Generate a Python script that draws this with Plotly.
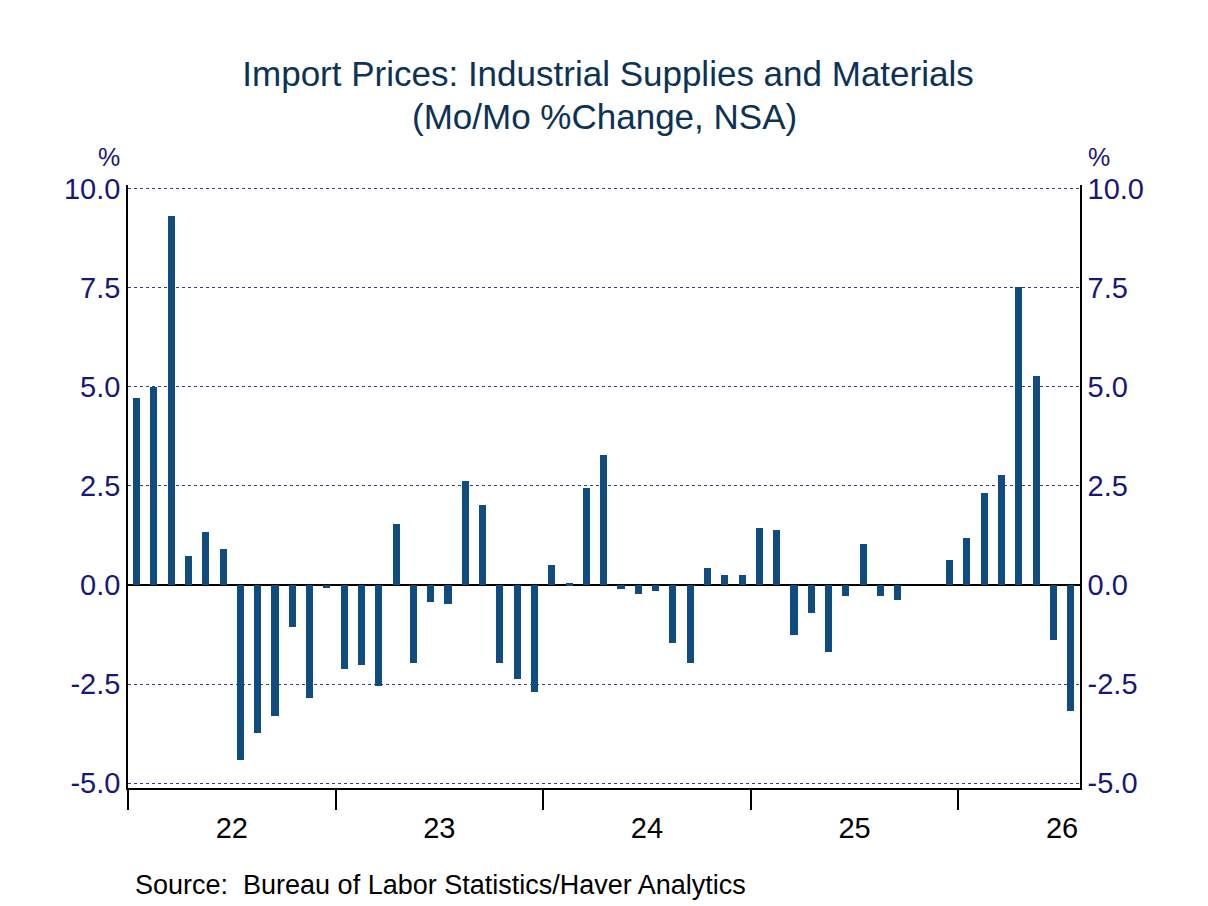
import plotly.graph_objects as go

# ---- data ----
months = [f"{y}-{m:02d}" for y in range(2022, 2027) for m in range(1, 13)][:55]
values_2022 = [4.72, 4.99, 9.32, 0.72, 1.34, 0.92, -4.42, -3.73, -3.30, -1.07, -2.86, -0.08]
values_2023 = [-2.11, -2.01, -2.54, 1.55, -1.96, -0.42, -0.47, 2.62, 2.02, -1.96, -2.36, -2.71]
values_2024 = [0.50, 0.05, 2.45, 3.28, -0.09, -0.22, -0.14, -1.45, -1.96, 0.43, 0.25, 0.25]
values_2025 = [1.44, 1.39, -1.26, -0.70, -1.68, -0.27, 1.03, -0.27, -0.39, None, None, 0.63]
values_2026 = [1.19, 2.32, 2.77, 7.51, 5.27, -1.38, -3.19]
values = values_2022 + values_2023 + values_2024 + values_2025 + values_2026

years = [2022, 2023, 2024, 2025, 2026]
year_labels = ["22", "23", "24", "25", "26"]
y_ticks = [-5.0, -2.5, 0.0, 2.5, 5.0, 7.5, 10.0]
y_tick_labels = ["-5.0", "-2.5", "0.0", "2.5", "5.0", "7.5", "10.0"]

title_line1 = "Import Prices: Industrial Supplies and Materials"
title_line2 = "(Mo/Mo %Change, NSA)"
source_text = "Source:  Bureau of Labor Statistics/Haver Analytics"

# month -> decimal year at mid-month
x = [int(m[:4]) + (int(m[5:7]) - 0.5) / 12 for m in months]

BAR = "#104c80"
TICK = "#17177a"
TITLE = "#0c3355"
FONT = "Liberation Sans, Arial, sans-serif"

# page body has an 8px margin, so the figure is 8px smaller than the window
W, H = 1200, 898
ML, MR, MT, MB = 120, 128, 177, 118

fig = go.Figure()
fig.add_trace(go.Bar(x=x, y=values, width=0.41 / 12, marker=dict(color=BAR, line=dict(width=0)),
                     showlegend=False, hoverinfo="skip"))
# invisible trace to activate right axis
fig.add_trace(go.Scatter(x=[x[0]], y=[0], yaxis="y2", mode="markers", marker=dict(opacity=0),
                         showlegend=False, hoverinfo="skip"))

yr = [-5.12, 10.09]
xr = [2022, 2026 + 7 / 12 + 0.003]

fig.update_layout(
    width=W, height=H,
    paper_bgcolor="white", plot_bgcolor="white",
    margin=dict(l=ML, r=MR, t=MT, b=MB),
    font=dict(family=FONT),
    title=dict(text=title_line1,
               x=0.5, xanchor="center", y=1 - 66 / H, yanchor="middle", yref="container",
               font=dict(size=35, color=TITLE, family=FONT)),
    bargap=0,
    xaxis=dict(range=xr, showgrid=False, zeroline=False,
               showline=True, linecolor="black", linewidth=1.5,
               tickmode="array", tickvals=[yv + 0.5 for yv in years], ticktext=year_labels,
               ticks="", ticklabelstandoff=13, tickfont=dict(size=29, color="black", family=FONT),
               minor=dict(tickmode="array", tickvals=years, ticks="outside", ticklen=20,
                          tickcolor="black", tickwidth=1.5, showgrid=False)),
    yaxis=dict(range=yr, showgrid=True, gridcolor="#34447a", gridwidth=1, griddash="dot",
               zeroline=True, zerolinecolor="black", zerolinewidth=1.5,
               showline=True, linecolor="black", linewidth=1.5,
               tickmode="array", tickvals=y_ticks, ticktext=y_tick_labels, ticks="",
               tickfont=dict(size=29, color=TICK, family=FONT)),
    yaxis2=dict(range=yr, overlaying="y", side="right", showgrid=False, zeroline=False,
                showline=True, linecolor="black", linewidth=1.5,
                tickmode="array", tickvals=y_ticks, ticktext=y_tick_labels, ticks="",
                tickfont=dict(size=29, color=TICK, family=FONT)),
    annotations=[
        dict(text=title_line2, xref="paper", yref="paper", x=0.5, y=1, xanchor="center",
             yanchor="middle", yshift=MT - 108, showarrow=False,
             font=dict(size=35, color=TITLE, family=FONT)),
        dict(text="%", xref="paper", yref="paper", x=0, y=1, xanchor="right", yanchor="middle",
             xshift=-6, yshift=28, showarrow=False, font=dict(size=25, color=TICK, family=FONT)),
        dict(text="%", xref="paper", yref="paper", x=1, y=1, xanchor="left", yanchor="middle",
             xshift=6, yshift=28, showarrow=False, font=dict(size=25, color=TICK, family=FONT)),
        dict(text=source_text, xref="paper", yref="paper",
             x=0, y=0, xanchor="left", yanchor="middle", xshift=5, yshift=-(885 - 788),
             showarrow=False, font=dict(size=27, color="black", family=FONT)),
    ],
)

fig.write_html("out.html")
